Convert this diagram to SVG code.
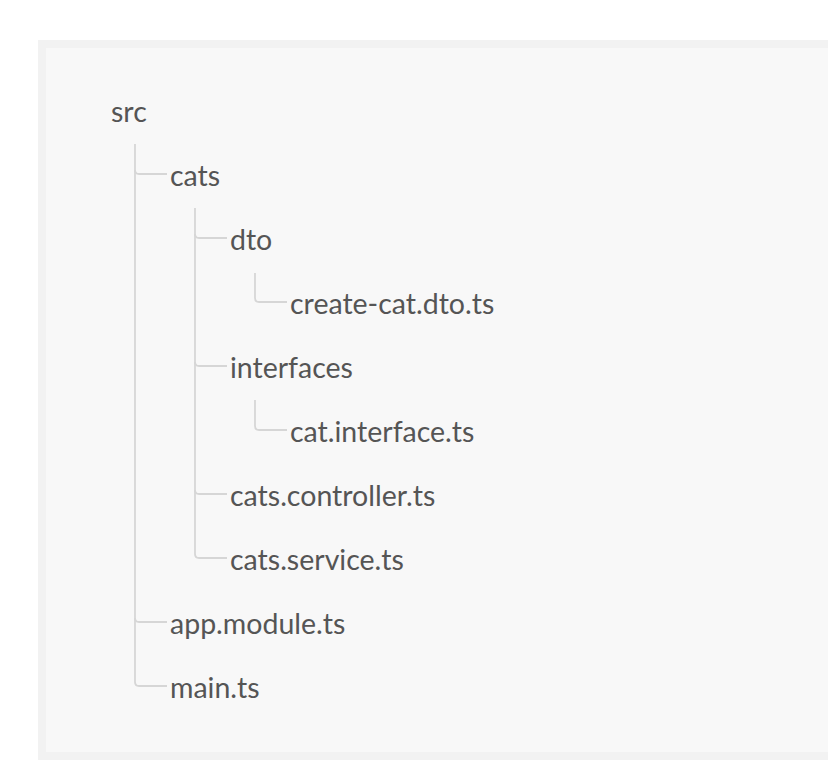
<svg xmlns="http://www.w3.org/2000/svg" width="828" height="772" viewBox="0 0 828 772">
<style>
.t{font-family:Lato,"Noto Sans","Liberation Sans",sans-serif;font-size:28.5px;fill:#555555}
.c{fill:none;stroke:#d6d6d6;stroke-width:1.8}
</style>
<rect x="0" y="0" width="828" height="772" fill="#ffffff"/>
<rect x="38" y="40" width="800" height="720" fill="#f2f2f2"/>
<rect x="46" y="48" width="792" height="704" fill="#f8f8f8"/>
<g id="connectors">
<path class="c" d="M135 144 V170 Q135 174 139 174 H167"/>
<path class="c" d="M135 170 V682 Q135 686 139 686 H167"/>
<path class="c" d="M135 618 Q135 622 139 622 H167"/>
<path class="c" d="M195 208 V234 Q195 238 199 238 H227"/>
<path class="c" d="M195 234 V554 Q195 558 199 558 H227"/>
<path class="c" d="M195 362 Q195 366 199 366 H227"/>
<path class="c" d="M195 490 Q195 494 199 494 H227"/>
<path class="c" d="M255 273 V298 Q255 302 259 302 H287"/>
<path class="c" d="M255 400 V426 Q255 430 259 430 H287"/>
</g>
<g id="n-src"><text class="t" x="111" y="122">src</text></g>
<g id="n-cats"><text class="t" x="170" y="186">cats</text></g>
<g id="n-dto"><text class="t" x="230" y="250">dto</text></g>
<g id="n-create-cat"><text class="t" x="290" y="314">create-cat.dto.ts</text></g>
<g id="n-interfaces"><text class="t" x="230" y="378">interfaces</text></g>
<g id="n-cat-interface"><text class="t" x="290" y="442">cat.interface.ts</text></g>
<g id="n-cats-controller"><text class="t" x="230" y="506">cats.controller.ts</text></g>
<g id="n-cats-service"><text class="t" x="230" y="570">cats.service.ts</text></g>
<g id="n-app-module"><text class="t" x="170" y="634">app.module.ts</text></g>
<g id="n-main"><text class="t" x="170" y="698">main.ts</text></g>
</svg>
